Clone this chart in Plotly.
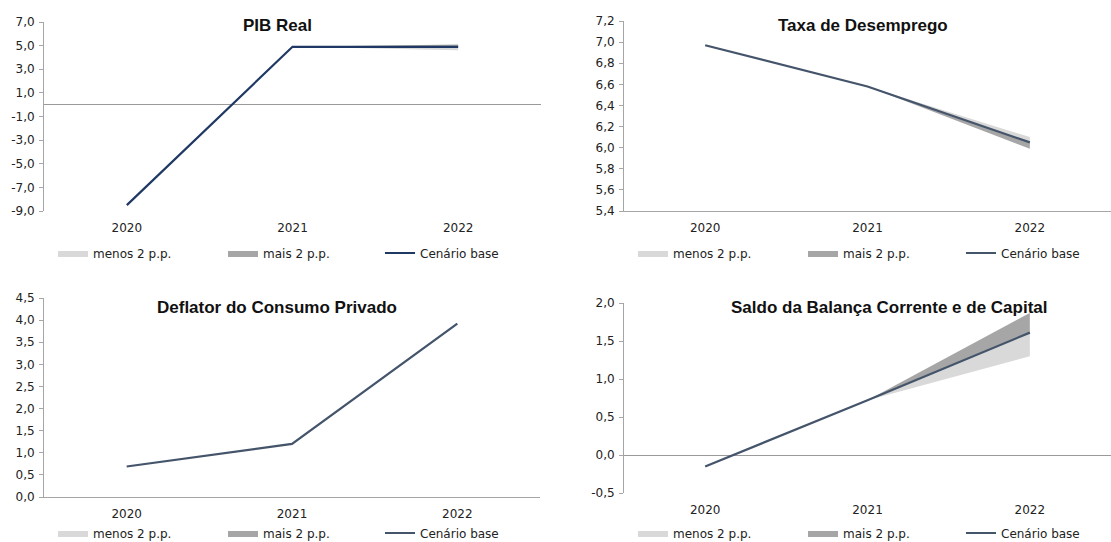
import plotly.graph_objects as go

W, H = 1111, 542

YEARS = ['2020', '2021', '2022']

PIB_BASE = [-8.5, 4.9, 4.9]
PIB_MENOS = [-8.5, 4.9, 4.6]
PIB_MAIS = [-8.5, 4.9, 5.1]

DESEMP_BASE = [6.97, 6.58, 6.05]
DESEMP_MENOS = [6.97, 6.58, 6.10]
DESEMP_MAIS = [6.97, 6.58, 5.99]

DEFLATOR_BASE = [0.69, 1.20, 3.92]
DEFLATOR_MENOS = [0.69, 1.20, 3.92]
DEFLATOR_MAIS = [0.69, 1.20, 3.92]

SALDO_BASE = [-0.15, 0.72, 1.61]
SALDO_MENOS = [-0.15, 0.72, 1.30]
SALDO_MAIS = [-0.15, 0.72, 1.87]

PIB_TICKS = [-9, -7, -5, -3, -1, 1, 3, 5, 7]
DESEMP_TICKS = [5.4, 5.6, 5.8, 6.0, 6.2, 6.4, 6.6, 6.8, 7.0, 7.2]
DEFLATOR_TICKS = [0.0, 0.5, 1.0, 1.5, 2.0, 2.5, 3.0, 3.5, 4.0, 4.5]
SALDO_TICKS = [-0.5, 0.0, 0.5, 1.0, 1.5, 2.0]

NAMES = ['menos 2 p.p.', 'mais 2 p.p.', 'Cenário base']

LIGHT = '#D9D9D9'
DARK = '#A6A6A6'
NAVY = '#1F3864'
SLATE = '#44546A'
AXIS = '#A6A6A6'
FONT = 'DejaVu Sans'

# title, base, menos, mais, ticks, line colour, x px, y px, title pos px,
# zero line?, bottom axis line?, legend swatch x px, legend y px
panels = [
    ('PIB Real', PIB_BASE, PIB_MENOS, PIB_MAIS, PIB_TICKS, NAVY,
     (44, 541), (22, 211), (277, 25), True, False, (59, 229, 386), 253),
    ('Taxa de Desemprego', DESEMP_BASE, DESEMP_MENOS, DESEMP_MAIS, DESEMP_TICKS, SLATE,
     (624, 1111), (21, 211), (863, 25), False, True, (639, 809, 967), 253),
    ('Deflator do Consumo Privado', DEFLATOR_BASE, DEFLATOR_MENOS, DEFLATOR_MAIS,
     DEFLATOR_TICKS, SLATE,
     (44, 540), (298, 497), (277, 307), False, True, (59, 229, 386), 533),
    ('Saldo da Balança Corrente e de Capital', SALDO_BASE, SALDO_MENOS, SALDO_MAIS,
     SALDO_TICKS, SLATE,
     (624, 1111), (303, 493), (889, 307), True, False, (639, 809, 967), 533),
]


def fmt(v):
    return f'{v:.1f}'.replace('.', ',')


fig = go.Figure()
layout = dict(
    width=W, height=H,
    margin=dict(l=0, r=0, t=0, b=0, autoexpand=False),
    paper_bgcolor='white', plot_bgcolor='white',
    font=dict(family=FONT, size=12, color='#222222'),
    showlegend=True,
    annotations=[],
)

leg_n = 0
for i, (title, base, menos, mais, ticks, lcolor, xpx, ypx, tpos,
        zero, xline, legx, legy) in enumerate(panels):
    n = '' if i == 0 else str(i + 1)
    xa, ya = 'x' + n, 'y' + n

    items = [
        (NAMES[0], YEARS + YEARS[::-1], base + menos[::-1], LIGHT, True),
        (NAMES[1], YEARS + YEARS[::-1], base + mais[::-1], DARK, True),
        (NAMES[2], YEARS, base, lcolor, False),
    ]
    for k, (name, xs, ys, col, band) in enumerate(items):
        leg_n += 1
        lg = 'legend' if leg_n == 1 else f'legend{leg_n}'
        if band:
            fig.add_trace(go.Scatter(
                x=xs, y=ys, name=name, mode='lines', fill='toself',
                fillcolor=col, line=dict(width=0, color=col),
                xaxis=xa, yaxis=ya, legend=lg, showlegend=True,
                hoverinfo='skip'))
        else:
            fig.add_trace(go.Scatter(
                x=xs, y=ys, name=name, mode='lines',
                line=dict(color=col, width=2.2),
                xaxis=xa, yaxis=ya, legend=lg, showlegend=True))
        layout[lg] = dict(x=(legx[k] - 6) / W, y=1 - legy / H,
                          xanchor='left', yanchor='middle',
                          bgcolor='rgba(0,0,0,0)',
                          font=dict(family=FONT, size=12, color='#222222'))

    layout['xaxis' + n] = dict(
        domain=[xpx[0] / W, xpx[1] / W], anchor=ya,
        type='category', range=[-0.5, 2.5],
        showgrid=False, zeroline=False,
        showline=xline, linecolor=AXIS, linewidth=1,
        ticks='outside', ticklen=6, tickcolor='rgba(0,0,0,0)',
        tickfont=dict(family=FONT, size=12, color='#222222'),
        fixedrange=True,
    )
    layout['yaxis' + n] = dict(
        domain=[1 - ypx[1] / H, 1 - ypx[0] / H], anchor=xa,
        range=[ticks[0], ticks[-1]],
        tickvals=ticks, ticktext=[fmt(v) for v in ticks],
        showgrid=False,
        zeroline=zero, zerolinecolor='#9A9A9A', zerolinewidth=1,
        showline=True, linecolor=AXIS, linewidth=1,
        ticks='outside', ticklen=4, tickcolor=AXIS,
        ticklabelstandoff=2,
        tickfont=dict(family=FONT, size=12, color='#222222'),
        fixedrange=True,
    )
    layout['annotations'].append(dict(
        text=f'<b>{title}</b>', xref='paper', yref='paper',
        x=tpos[0] / W, y=1 - tpos[1] / H, xanchor='center', yanchor='middle',
        showarrow=False, font=dict(family='Liberation Sans', size=17, color='#111111')))

fig.update_layout(**layout)

# pin the figure to the top-left corner of the page
pin = ("var d=document.getElementById('{plot_id}');"
       "d.style.position='fixed';d.style.top='0px';d.style.left='0px';"
       "document.body.style.margin='0';"
       "document.documentElement.style.overflow='hidden';")
fig.write_html('out.html', config={'displayModeBar': False}, post_script=pin)
